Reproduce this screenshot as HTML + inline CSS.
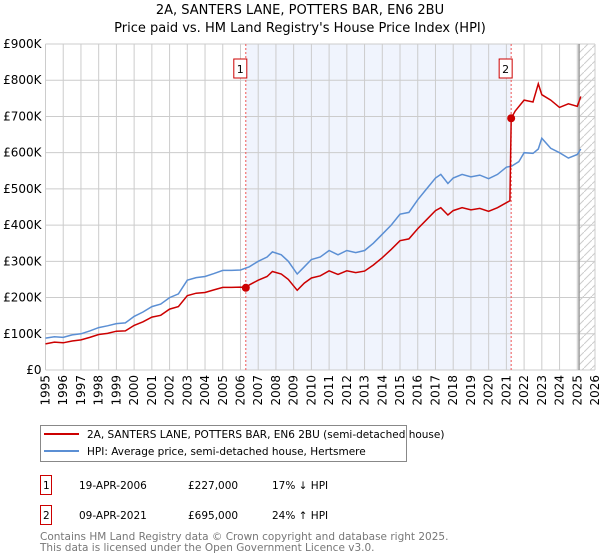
<!DOCTYPE html>
<html><head><meta charset="utf-8"><style>
body{margin:0;background:#fff;font-family:"DejaVu Sans","Liberation Sans",sans-serif;}
#wrap{position:relative;width:600px;height:560px;overflow:hidden;}
svg text{font-family:"DejaVu Sans","Liberation Sans",sans-serif;}
</style></head><body><div id="wrap">
<svg id="chart" width="600" height="560"></svg>
</div>
<script>
const years=[1995,1996,1997,1998,1999,2000,2001,2002,2003,2004,2005,2006,2007,2008,2009,2010,2011,2012,2013,2014,2015,2016,2017,2018,2019,2020,2021,2022,2023,2024,2025,2026];
const yTicks=[0,100000,200000,300000,400000,500000,600000,700000,800000,900000];
const yTickLabels=["£0","£100K","£200K","£300K","£400K","£500K","£600K","£700K","£800K","£900K"];
const hpiDates=[1995,1995.5,1996,1996.5,1997,1997.5,1998,1998.5,1999,1999.5,2000,2000.5,2001,2001.5,2002,2002.5,2003,2003.5,2004,2004.5,2005,2005.5,2006,2006.5,2007,2007.5,2007.8,2008.3,2008.7,2009.2,2009.6,2010,2010.5,2011,2011.5,2012,2012.5,2013,2013.5,2014,2014.5,2015,2015.5,2016,2016.5,2017,2017.3,2017.7,2018,2018.5,2019,2019.5,2020,2020.5,2021,2021.3,2021.7,2022,2022.5,2022.8,2023,2023.5,2024,2024.5,2025,2025.2];
const hpiValues=[88000,92000,90000,97000,100000,108000,117000,122000,128000,130000,148000,160000,175000,182000,200000,210000,248000,255000,258000,266000,275000,275000,276000,285000,300000,312000,326000,318000,300000,265000,285000,305000,312000,330000,318000,330000,324000,330000,350000,375000,400000,430000,435000,470000,500000,530000,540000,515000,530000,540000,533000,538000,528000,540000,560000,563000,575000,600000,598000,610000,640000,612000,600000,585000,595000,610000];
const paidDates=[1995,1995.5,1996,1996.5,1997,1997.5,1998,1998.5,1999,1999.5,2000,2000.5,2001,2001.5,2002,2002.5,2003,2003.5,2004,2004.5,2005,2005.5,2006,2006.3,2006.5,2007,2007.5,2007.8,2008.3,2008.7,2009.2,2009.6,2010,2010.5,2011,2011.5,2012,2012.5,2013,2013.5,2014,2014.5,2015,2015.5,2016,2016.5,2017,2017.3,2017.7,2018,2018.5,2019,2019.5,2020,2020.5,2021,2021.2,2021.27,2021.5,2022,2022.5,2022.8,2023,2023.5,2024,2024.5,2025,2025.2];
const paidValues=[72000,77000,75000,80000,83000,90000,98000,101000,107000,108000,123000,133000,146000,151000,168000,175000,205000,212000,214000,221000,228000,228000,229000,227000,235000,248000,258000,272000,265000,250000,220000,240000,254000,260000,274000,264000,274000,269000,273000,290000,310000,333000,357000,362000,390000,415000,440000,448000,428000,440000,448000,442000,446000,438000,448000,462000,467000,695000,715000,745000,740000,790000,760000,745000,725000,735000,728000,755000];
const sales=[{n:"1",d:2006.3,v:227000},{n:"2",d:2021.27,v:695000}];
const X0=45.5,X1=595,Y0=370,Y1=44;
const xs=d=>X0+(d-1995)/(2026-1995)*(X1-X0);
const ys=v=>Y0-v/900000*(Y0-Y1);
const svg=document.getElementById('chart');const NS="http://www.w3.org/2000/svg";
function mk(t,a,p){const e=document.createElementNS(NS,t);for(const k in a)e.setAttribute(k,a[k]);(p||svg).appendChild(e);return e;}
// title
let t=mk('text',{x:300,y:14,'text-anchor':'middle','font-size':13});t.textContent="2A, SANTERS LANE, POTTERS BAR, EN6 2BU";


t=mk('text',{x:300,y:32,'text-anchor':'middle','font-size':13});t.textContent="Price paid vs. HM Land Registry's House Price Index (HPI)";


// shading
let r=mk('rect',{x:xs(sales[0].d),y:Y1,width:xs(sales[1].d)-xs(sales[0].d),height:Y0-Y1,fill:'#f0f4fd'});


const defs=mk('defs',{});const pat=mk('pattern',{id:'hatch',width:8,height:8,patternUnits:'userSpaceOnUse'},defs);
mk('path',{d:'M0,8 L8,0',stroke:'#ccc','stroke-width':1},pat);
r=mk('rect',{x:xs(2025.1),y:Y1,width:X1-xs(2025.1),height:Y0-Y1,fill:'url(#hatch)'});


// grid
years.forEach(y=>{const l=mk('line',{x1:xs(y),x2:xs(y),y1:Y1,y2:Y0,stroke:'#ccc'});


const tx=mk('text',{transform:`translate(${xs(y)+4},${Y0+5}) rotate(-90)`,'text-anchor':'end','font-size':12});tx.textContent=y;

});
yTicks.forEach((v,i)=>{const l=mk('line',{x1:X0,x2:X1,y1:ys(v),y2:ys(v),stroke:'#ccc'});


const tx=mk('text',{x:X0-4,y:ys(v)+4,'text-anchor':'end','font-size':12});tx.textContent=yTickLabels[i];

});
r=mk('line',{x1:xs(2025.1),x2:xs(2025.1),y1:Y1,y2:Y0,stroke:'#999','stroke-width':1.5});


// sale vlines
sales.forEach(s=>{const l=mk('line',{x1:xs(s.d),x2:xs(s.d),y1:Y1,y2:Y0,stroke:'#e55','stroke-dasharray':'2,2'});


const b=mk('rect',{x:xs(s.d)-12,y:59,width:13,height:19,fill:'#fff',stroke:'#c00'});


const tx=mk('text',{x:xs(s.d)-5.5,y:73,'text-anchor':'middle','font-size':11});tx.textContent=s.n;

});
// lines
function pts(D,V){return D.map((d,i)=>xs(d).toFixed(1)+','+ys(V[i]).toFixed(1)).join(' ');}
let p=mk('polyline',{points:pts(hpiDates,hpiValues),fill:'none',stroke:'#5b8fd4','stroke-width':1.5});


p=mk('polyline',{points:pts(paidDates,paidValues),fill:'none',stroke:'#cc0000','stroke-width':1.5});


sales.forEach(s=>{const c=mk('circle',{cx:xs(s.d),cy:ys(s.v),r:4,fill:'#cc0000'});

});
// legend
r=mk('rect',{x:40.5,y:425.5,width:366,height:36,fill:'#fff',stroke:'#888'});


mk('line',{x1:44,x2:79,y1:434,y2:434,stroke:'#cc0000','stroke-width':2});
mk('line',{x1:44,x2:79,y1:451,y2:451,stroke:'#5b8fd4','stroke-width':2});
t=mk('text',{x:87,y:438,'font-size':10.5});t.textContent="2A, SANTERS LANE, POTTERS BAR, EN6 2BU (semi-detached house)";


t=mk('text',{x:87,y:455,'font-size':10.5});t.textContent="HPI: Average price, semi-detached house, Hertsmere";


// table
const rows=[["1","19-APR-2006","£227,000","17% ↓ HPI",475],["2","09-APR-2021","£695,000","24% ↑ HPI",505]];
rows.forEach(rw=>{const b=mk('rect',{x:40.5,y:rw[4]+0.5,width:11,height:19,fill:'#fff',stroke:'#c00'});


[[rw[0],43],[rw[1],79],[rw[2],188],[rw[3],272]].forEach(c=>{const tx=mk('text',{x:c[1],y:rw[4]+14,'font-size':10.5});tx.textContent=c[0];

});});
t=mk('text',{x:40,y:540,'font-size':10.5,fill:'#777'});t.textContent="Contains HM Land Registry data © Crown copyright and database right 2025.";


t=mk('text',{x:40,y:551,'font-size':10.5,fill:'#777'});t.textContent="This data is licensed under the Open Government Licence v3.0.";


</script></body></html>
